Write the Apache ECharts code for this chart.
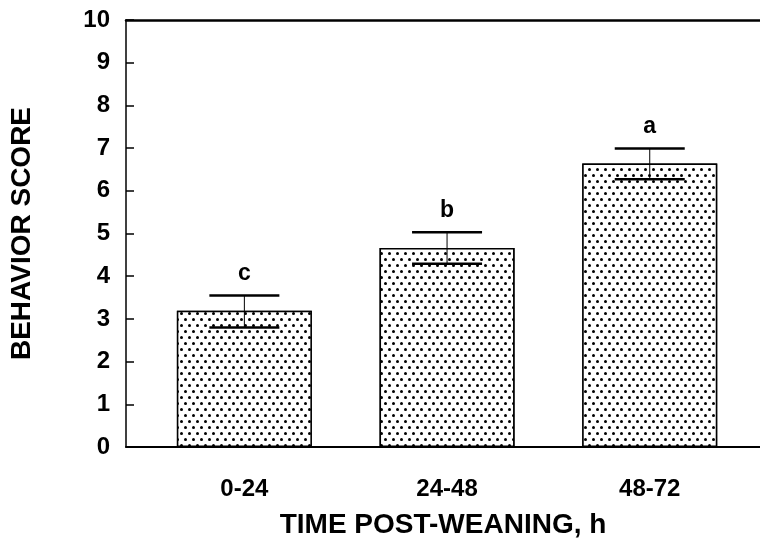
<!DOCTYPE html>
<html>
<head>
<meta charset="utf-8">
<script src="https://cdn.jsdelivr.net/npm/echarts@6/dist/echarts.min.js"></script>
<style>
  html, body { margin: 0; padding: 0; background: #fff; }
  #main { width: 760px; height: 544px; }
</style>
</head>
<body>
<div id="main"></div>
<script>
// data
var categories = ['0-24', '24-48', '48-72'];
var positions = [0, 1, 2];
var means = [3.19, 4.66, 6.64];
var errLow = [2.80, 4.29, 6.27];
var errHigh = [3.55, 5.03, 6.99];
var letters = ['c', 'b', 'a'];

var font = 'Liberation Sans, Arial, sans-serif';

var chart = echarts.init(document.getElementById('main'));

var barData = [];
var errData = [];
for (var i = 0; i < positions.length; i++) {
    barData.push([positions[i], means[i]]);
    errData.push([positions[i], errLow[i], errHigh[i]]);
}

// 误差线 + 字母
function renderErr(params, api) {
    var x = api.value(0);
    var lo = api.coord([x, api.value(1)]);
    var hi = api.coord([x, api.value(2)]);
    var cap = 70;
    var st = { stroke: '#000', lineWidth: 2.5 };
    return {
        type: 'group',
        children: [
            { type: 'line', shape: { x1: hi[0], y1: hi[1], x2: lo[0], y2: lo[1] }, style: { stroke: '#000', lineWidth: 1 } },
            { type: 'line', shape: { x1: hi[0] - cap / 2, y1: hi[1], x2: hi[0] + cap / 2, y2: hi[1] }, style: st },
            { type: 'line', shape: { x1: lo[0] - cap / 2, y1: lo[1], x2: lo[0] + cap / 2, y2: lo[1] }, style: st },
            {
                type: 'text', x: hi[0], y: hi[1] - 10,
                style: { text: letters[params.dataIndex], fill: '#000', font: 'bold 23px ' + font, align: 'center', verticalAlign: 'bottom' }
            }
        ]
    };
}

chart.setOption({
    animation: false,
    grid: { left: 125, right: 0, top: 20, bottom: 95 },
    xAxis: [{
        type: 'value',
        min: -0.584,
        max: 2.544,
        splitLine: { show: false },
        axisLine: { show: true, onZero: false, lineStyle: { color: '#000', width: 2 } },
        axisTick: { show: false },
        axisLabel: {
            customValues: positions,
            formatter: function (v) { return categories[Math.round(v)]; },
            color: '#000', fontFamily: font, fontWeight: 'bold', fontSize: 24, margin: 30
        },
        name: 'TIME POST-WEANING, h',
        nameLocation: 'middle',
        nameGap: 64,
        nameTextStyle: { color: '#000', fontFamily: font, fontWeight: 'bold', fontSize: 28 }
    }, {
        type: 'value',
        position: 'top',
        min: -0.584,
        max: 2.544,
        splitLine: { show: false },
        axisLine: { show: true, onZero: false, lineStyle: { color: '#000', width: 2.5 } },
        axisTick: { show: false },
        axisLabel: { show: false }
    }],
    yAxis: {
        type: 'value',
        min: 0,
        max: 10,
        interval: 1,
        splitLine: { show: false },
        axisLine: { show: true, onZero: false, lineStyle: { color: '#000', width: 1.5 } },
        axisTick: { inside: true, length: 8, lineStyle: { color: '#000', width: 1.5 } },
        axisLabel: {
            color: '#000', fontFamily: font, fontWeight: 'bold', fontSize: 24, margin: 16
        },
        name: 'BEHAVIOR SCORE',
        nameLocation: 'middle',
        nameGap: 90,
        nameTextStyle: { color: '#000', fontFamily: font, fontWeight: 'bold', fontSize: 28 }
    },
    series: [{
        type: 'bar',
        data: barData,
        barWidth: 135,
        itemStyle: {
            color: '#fff',
            borderColor: '#000',
            borderWidth: 1.5,
            decal: {
                symbol: 'circle',
                symbolSize: 1,
                color: '#000',
                backgroundColor: '#fff',
                dashArrayX: [[2.5, 4.5], [0, 3.5, 2.5, 1]],
                dashArrayY: [2.5, 3],
                rotation: 0
            }
        },
        z: 2
    }, {
        type: 'custom',
        renderItem: renderErr,
        data: errData,
        encode: { x: 0, y: [1, 2] },
        z: 3
    }]
});
</script>
</body>
</html>
